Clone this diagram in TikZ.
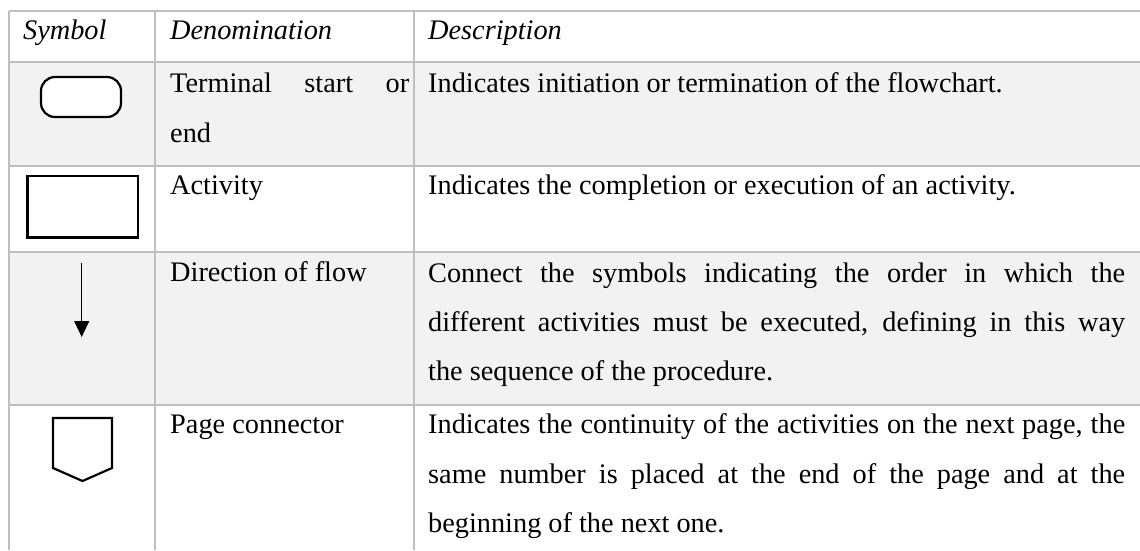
\documentclass[tikz,border=0pt]{standalone}
\usepackage{fontspec}
\setmainfont{Liberation Serif}
\usetikzlibrary{arrows.meta}
\definecolor{gridgray}{HTML}{BFBFBF}
\definecolor{rowshade}{HTML}{F2F2F2}
\begin{document}
\begin{tikzpicture}[x=1pt,y=-1pt,
  cell/.style={anchor=base west,inner sep=0pt,font=\fontsize{28.3}{49.5}\selectfont},
  head/.style={cell,font=\fontsize{28.3}{49.5}\selectfont\itshape},
  rule/.style={draw=gridgray,line width=1.6pt},
  symb/.style={draw=black,line width=2.2pt,fill=white,line join=miter},
  flow/.style={draw=black,line width=1.2pt,-{Triangle[length=16pt,width=15pt]}}]
% page frame
\useasboundingbox (0,0) rectangle (1140,550);
\fill[white] (0,0) rectangle (1140,550);
% shaded rows
\fill[rowshade] (9,62) rectangle (1140,166);
\fill[rowshade] (9,252) rectangle (1140,405);
% grid
\foreach \yy in {11,62,166,252,405} \draw[rule] (9,\yy) -- (1140,\yy);
\foreach \xx in {9,155,414} \draw[rule] (\xx,11) -- (\xx,550);
% header
\node[head] (hsym) at (23,39) {Symbol};
\node[head] (hden) at (170,39) {Denomination};
\node[head] (hdes) at (428,39) {Description};
% terminal
\draw[symb,rounded corners=14pt] (41,77) rectangle (121,117);
\node[cell] (term1) at (170,92) {\makebox[239pt][s]{Terminal start or}};
\node[cell] (term2) at (170,142) {end};
\node[cell] (termd) at (428,92) {Indicates initiation or termination of the flowchart.};
% activity
\draw[symb,line width=2.5pt] (27.5,176) rectangle (138,237.5);
\node[cell] (act) at (170,194) {Activity};
\node[cell] (actd) at (428,194) {Indicates the completion or execution of an activity.};
% direction of flow
\coordinate (flowtop) at (81.7,263);
\coordinate (flowtip) at (81.7,337);
\draw[flow] (flowtop) -- (flowtip);
\node[cell] (dir) at (170,281) {Direction of flow};
\node[cell] (dird1) at (428,282) {\makebox[697pt][s]{Connect the symbols indicating the order in which the}};
\node[cell] (dird2) at (428,331) {\makebox[697pt][s]{different activities must be executed, defining in this way}};
\node[cell] (dird3) at (428,380) {the sequence of the procedure.};
% page connector
\draw[symb] (53,418) -- (112,418) -- (112,468) -- (82.5,481) -- (53,468) -- cycle;
\node[cell] (pag) at (170,433) {Page connector};
\node[cell] (pagd1) at (428,433) {\makebox[697pt][s]{Indicates the continuity of the activities on the next page, the}};
\node[cell] (pagd2) at (428,483) {\makebox[697pt][s]{same number is placed at the end of the page and at the}};
\node[cell] (pagd3) at (428,532) {beginning of the next one.};
\end{tikzpicture}
\end{document}
